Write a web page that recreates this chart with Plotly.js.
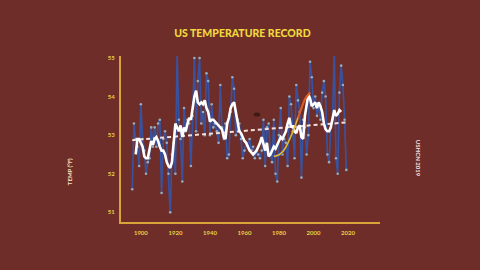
<!DOCTYPE html>
<html>
<head>
<meta charset="utf-8">
<script src="https://cdn.plot.ly/plotly-3.0.1.min.js"></script>
<style>html,body{margin:0;padding:0;background:#6e2d28;}#chart{width:480px;height:270px;}</style>
</head>
<body>
<div id="chart"></div>
<script>
// Annual temperature (°F), 1895-2019
const years = [];
for (let y = 1895; y <= 2019; y++) years.push(y);
const temps = [
51.6,53.3,52.9,52.7,52.2,53.8,52.9,52.6,52.0,52.3,
52.4,53.2,52.7,53.2,52.7,53.3,53.4,51.5,52.9,53.1,
52.8,52.0,51.0,52.5,52.8,52.0,55.1,53.4,52.9,51.8,
53.7,53.1,53.4,53.3,52.2,53.5,55.0,53.1,54.4,55.0,
53.3,53.6,53.0,54.6,54.4,53.0,53.8,53.2,53.3,53.1,
52.8,54.3,53.2,52.9,53.3,52.4,52.5,53.6,54.5,54.2,
53.0,53.4,53.3,52.9,52.4,52.6,52.8,52.7,52.9,52.6,
52.7,52.4,52.6,52.5,52.4,52.6,53.4,52.2,53.2,53.3,
52.5,52.3,53.4,52.0,51.8,53.0,53.7,52.5,52.9,52.8,
52.2,54.0,53.8,53.1,52.4,54.3,53.9,53.6,51.9,53.4,
53.2,52.5,53.0,54.9,54.5,53.7,54.0,53.5,53.8,53.4,
54.1,54.4,54.0,52.5,52.3,53.2,53.4,55.2,52.4,52.0,
54.1,54.8,54.3,53.4,52.1
];
// Smoothed curve, 1897-2016
const smoothYears = [];
for (let y = 1897; y <= 2016; y++) smoothYears.push(y);
const smooth = [
52.5,52.9,52.9,52.8,52.7,52.45,52.4,52.4,52.6,52.85,
52.75,52.9,52.95,52.85,52.7,52.6,52.6,52.5,52.3,52.2,
52.15,52.3,52.8,53.3,53.2,53.1,53.25,52.95,53.2,53.1,
53.3,53.45,53.4,53.7,54.0,54.15,53.85,53.8,53.85,53.8,
53.9,53.7,53.6,53.35,53.4,53.4,53.35,53.3,53.25,53.2,
53.15,52.95,52.9,53.3,53.45,53.7,53.8,53.85,53.6,53.35,
53.1,53.05,52.95,52.85,52.8,52.7,52.6,52.55,52.5,52.55,
52.6,52.7,52.8,52.95,52.8,52.6,52.8,52.45,52.5,52.6,
52.7,52.65,52.75,52.85,52.95,52.9,53.0,53.1,53.3,53.45,
53.2,53.25,53.1,53.05,53.2,53.25,52.95,52.9,53.5,53.8,
54.05,53.95,53.75,53.8,53.85,53.7,53.85,53.75,53.6,53.3,
53.15,53.1,53.1,53.2,53.4,53.65,53.5,53.55,53.65,53.6
];
// Linear trend endpoints
const trendYears = [1895, 2019];
const trendVals = [52.87, 53.33];
// Highlighted S-curve
const curveYears = [1977,1979,1981,1983,1985,1987,1989,1991,1993,1995,1997,1998];
const curveVals  = [52.45,52.47,52.52,52.62,52.78,52.98,53.2,53.45,53.7,53.93,54.05,54.1];
const xTicks = [1900,1920,1940,1960,1980,2000,2020];
const yTicks = [51,52,53,54,55];

const ink = '#e8cf45';
const traces = [
  {x: years, y: temps, mode: 'lines+markers', line: {color: '#3a529e', width: 1.7},
   marker: {size: 2.6, color: '#93aebf'}, hoverinfo: 'skip'},
  {x: trendYears, y: trendVals, mode: 'lines', line: {color: '#f5e0d8', width: 2, dash: '4px,3px'}},
  {x: smoothYears, y: smooth, mode: 'lines', line: {color: '#ffffff', width: 2.6}},
  {x: curveYears.slice(0,4), y: curveVals.slice(0,4), mode: 'lines', line: {color: '#3550b0', width: 3, shape: 'spline'}},
  {x: curveYears, y: curveVals, mode: 'lines', line: {color: '#e6b82c', width: 1.6, shape: 'spline'}},
  {x: curveYears.slice(7), y: curveVals.slice(7), mode: 'lines', line: {color: '#d84a22', width: 2, shape: 'spline'}, opacity: 0.85}
];

const layout = {
  width: 480, height: 270,
  paper_bgcolor: '#6e2d28', plot_bgcolor: 'rgba(0,0,0,0)',
  margin: {l: 121, r: 100, t: 56, b: 48},
  showlegend: false,
  title: {text: 'US TEMPERATURE RECORD', x: 0.505, xref: 'container', y: 0.878, yref: 'container', yanchor: 'middle',
          font: {family: 'Lato, sans-serif', size: 10.5, color: '#f0d83e', weight: 900}},
  xaxis: {range: [1888.5, 2038.5], tickvals: xTicks, ticktext: xTicks.map(String), showgrid: false, zeroline: false,
          showline: true, linecolor: '#d9a43a', linewidth: 2, ticks: '', ticklabelstandoff: 4,
          tickfont: {family: 'Lato, sans-serif', size: 6, color: ink, weight: 700}},
  yaxis: {range: [50.75, 55.05], tickvals: yTicks, ticktext: yTicks.map(String), showgrid: false, zeroline: false,
          showline: true, linecolor: '#d9a43a', linewidth: 2, ticks: '', ticklabelstandoff: 3,
          tickfont: {family: 'Lato, sans-serif', size: 6, color: ink, weight: 700}},
  annotations: [
    {text: 'TEMP (°F)', xref: 'paper', yref: 'paper', x: -0.22, y: 0.21, textangle: -90, showarrow: false,
     font: {family: 'Lato, sans-serif', size: 6, color: '#f2e4c4', weight: 700}},
    {text: 'USHCN 2019', xref: 'paper', yref: 'paper', x: 1.17, y: 0.26, textangle: 90, showarrow: false,
     font: {family: 'Lato, sans-serif', size: 6, color: '#f2e4e8', weight: 700}}
  ],
  shapes: [
    {type: 'circle', xref: 'paper', yref: 'paper', x0: 0.512, x1: 0.538, y0: 0.635, y1: 0.66,
     fillcolor: 'rgba(30,15,12,0.6)', line: {width: 0}}
  ]
};
Plotly.newPlot('chart', traces, layout, {staticPlot: true, displayModeBar: false});
</script>
</body>
</html>
